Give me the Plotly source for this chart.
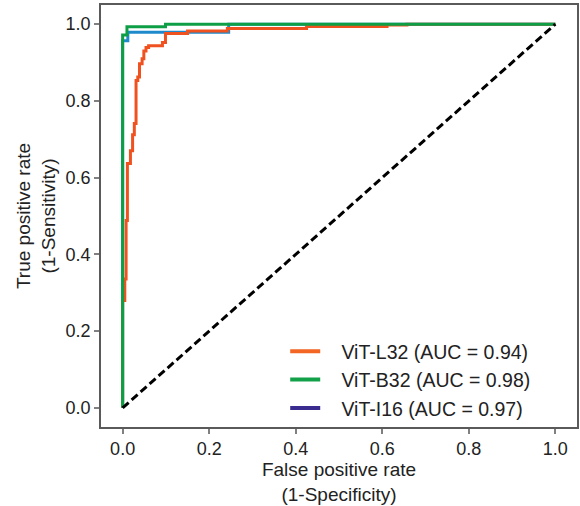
import plotly.graph_objects as go

# ROC curve data
fpr_l32 = [0, 0, 0.005, 0.005, 0.008, 0.008, 0.011, 0.011, 0.018, 0.018, 0.023, 0.023,
           0.027, 0.027, 0.031, 0.031, 0.035, 0.035, 0.039, 0.039, 0.045, 0.045, 0.049,
           0.049, 0.054, 0.054, 0.060, 0.060, 0.092, 0.092, 0.099, 0.099, 0.150, 0.150,
           0.242, 0.242, 0.425, 0.425, 0.611, 0.611, 0.657, 0.657, 1.0]
tpr_l32 = [0, 0.28, 0.28, 0.336, 0.336, 0.488, 0.488, 0.637, 0.637, 0.67, 0.67, 0.712,
           0.712, 0.741, 0.741, 0.853, 0.853, 0.862, 0.862, 0.897, 0.897, 0.91, 0.91,
           0.93, 0.93, 0.939, 0.939, 0.944, 0.944, 0.952, 0.952, 0.976, 0.976, 0.982,
           0.982, 0.989, 0.989, 0.994, 0.994, 0.998, 0.998, 1.0, 1.0]

fpr_b32 = [0, 0, 0.01, 0.01, 0.099, 0.099, 1.0]
tpr_b32 = [0, 0.972, 0.972, 0.993, 0.993, 1.0, 1.0]

fpr_i16 = [0, 0, 0.012, 0.012, 0.245, 0.245, 1.0]
tpr_i16 = [0, 0.957, 0.957, 0.979, 0.979, 1.0, 1.0]

diag_x = [0, 1]
diag_y = [0, 1]

legend_labels = ["ViT-L32 (AUC = 0.94)", "ViT-B32 (AUC = 0.98)", "ViT-I16 (AUC = 0.97)"]
legend_colors = ["#F26522", "#12A048", "#3A2C8E"]

tick_vals = [0, 0.2, 0.4, 0.6, 0.8, 1.0]
tick_text = ["0.0", "0.2", "0.4", "0.6", "0.8", "1.0"]

C_ORANGE = "#F0521F"
C_GREEN = "#0E9E45"
C_BLUE = "#1F8ACB"

fig = go.Figure()
fig.add_trace(go.Scatter(x=fpr_i16, y=tpr_i16, mode="lines",
                         line=dict(color=C_BLUE, width=3), showlegend=False))
fig.add_trace(go.Scatter(x=fpr_l32, y=tpr_l32, mode="lines",
                         line=dict(color=C_ORANGE, width=3), showlegend=False))
fig.add_trace(go.Scatter(x=fpr_b32, y=tpr_b32, mode="lines",
                         line=dict(color=C_GREEN, width=3), showlegend=False))
fig.add_trace(go.Scatter(x=diag_x, y=diag_y, mode="lines",
                         line=dict(color="black", width=3, dash="8px,4px"),
                         showlegend=False))

# legend entries
for lab, col in zip(legend_labels, legend_colors):
    fig.add_trace(go.Scatter(x=[None], y=[None], mode="lines",
                             line=dict(color=col, width=4),
                             name="\u00a0\u00a0\u00a0" + lab, showlegend=True))

axis_common = dict(
    range=[-0.05, 1.05], showgrid=False, zeroline=False,
    showline=True, linecolor="#5a5a5a", linewidth=1.5, mirror=True,
    ticks="outside", ticklen=5, tickwidth=1.5, tickcolor="#808080",
    tickvals=tick_vals, ticktext=tick_text,
    tickfont=dict(family="Liberation Sans, Arial", size=18, color="#222222"),
)

fig.update_layout(
    width=580, height=506,
    margin=dict(l=101, r=1, t=5, b=79),
    paper_bgcolor="white", plot_bgcolor="white",
    font=dict(family="Liberation Sans, Arial", color="#222222"),
    xaxis=dict(**axis_common,
               title=dict(text="False positive rate<br>(1-Specificity)",
                          font=dict(size=19, color="#222222"), standoff=4)),
    yaxis=dict(**axis_common,
               title=dict(text="True positive rate<br>(1-Sensitivity)",
                          font=dict(size=19, color="#222222"), standoff=5)),
    legend=dict(x=0.387, y=0.225, xanchor="left", yanchor="top",
                bgcolor="rgba(0,0,0,0)", font=dict(size=19.5, color="#222222"),
                tracegroupgap=0, itemwidth=30),
)

fig.write_html("out.html",
               config={"displayModeBar": False},
               post_script="document.body.style.margin='0';document.body.style.overflow='hidden';")
